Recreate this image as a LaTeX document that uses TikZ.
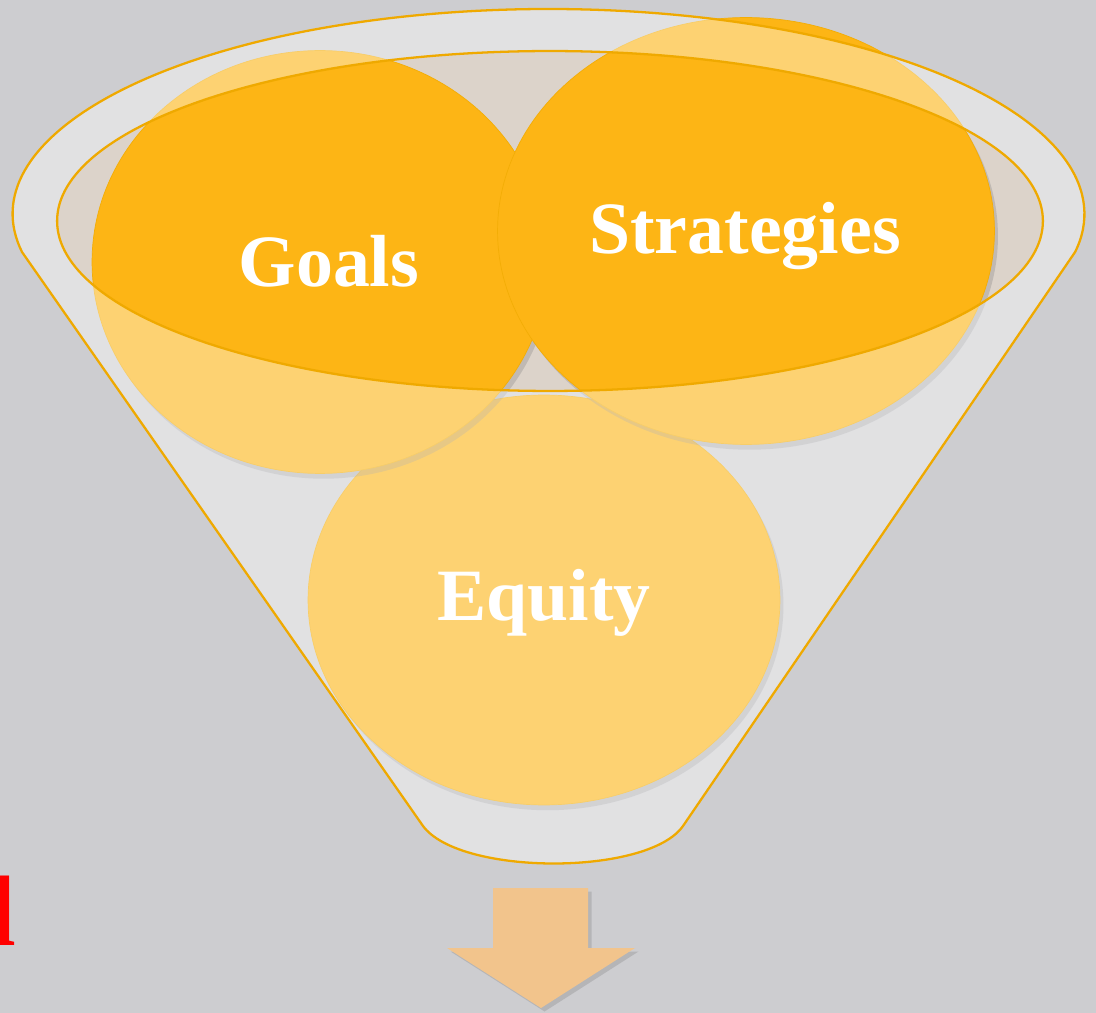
\documentclass[tikz,border=0pt]{standalone}
\usepackage{fontspec}
\setmainfont{Liberation Serif}
\usetikzlibrary{shapes.geometric,shadows}
\definecolor{paper}{HTML}{CDCDD0}
\definecolor{gold}{HTML}{FDB515}
\definecolor{rim}{HTML}{EFA900}
\definecolor{mouthfill}{HTML}{DCD3CA}
\definecolor{tan}{HTML}{F2C48C}
\begin{document}
\begin{tikzpicture}[x=0.02cm,y=-0.02cm,
		blob/.style={ellipse,fill=gold,draw=rim!70!gold,line width=0.4pt,inner sep=0pt,
			drop shadow={shadow xshift=2pt,shadow yshift=-3pt,opacity=0.3}},
		word/.style={text=white,font=\fontsize{42}{48}\selectfont\bfseries,inner sep=0pt},
		mouthshape/.style={ellipse,minimum width=19.72cm,minimum height=6.8cm,inner sep=0pt}]
		\fill[paper] (0,0) rectangle (1096,1013);
		\useasboundingbox (0,0) rectangle (1096,1013);
		\node[mouthshape,fill=mouthfill] (mouth) at (550,221) {};
		\node[blob,minimum width=9.44cm,minimum height=8.2cm] (equity) at (544,600) {};
		\node[blob,minimum width=9.12cm,minimum height=8.46cm] (goals) at (320,262) {};
		\node[blob,minimum width=9.94cm,minimum height=8.54cm] (strategies) at (746,231) {};
		\fill[white,opacity=0.4,even odd rule] (22,252) arc[start angle=190.7,end angle=-10.7,x radius=10.72cm,y radius=4.1cm]
			-- (683,826) .. controls (648,876) and (460,876) .. (423,826) -- cycle
			(mouth.center) ellipse[x radius=9.86cm,y radius=3.4cm];
		\draw[rim,line width=1.3pt,line join=round] (22,252) arc[start angle=190.7,end angle=-10.7,x radius=10.72cm,y radius=4.1cm]
			-- (683,826) .. controls (648,876) and (460,876) .. (423,826) -- cycle;
		\node[mouthshape,draw=rim,line width=1.3pt] (mouthrim) at (mouth) {};
		\node[word] (goalsword) at (329,261) {Goals};
		\node[word] (strategiesword) at (745,236) {Strategies};
		\node[word] (equityword) at (544,603) {Equity};
		\fill[tan,drop shadow={shadow xshift=2pt,shadow yshift=-2pt,opacity=0.3}] (493,888) -- (588,888) -- (588,948) -- (635,948)
			-- (541,1008) -- (447,948) -- (493,948) -- cycle;
		\node[text=red,font=\fontsize{57}{60}\selectfont\bfseries,anchor=base east,inner sep=0pt] (cutoff) at (17,945) {l};
	\end{tikzpicture}
\end{document}
